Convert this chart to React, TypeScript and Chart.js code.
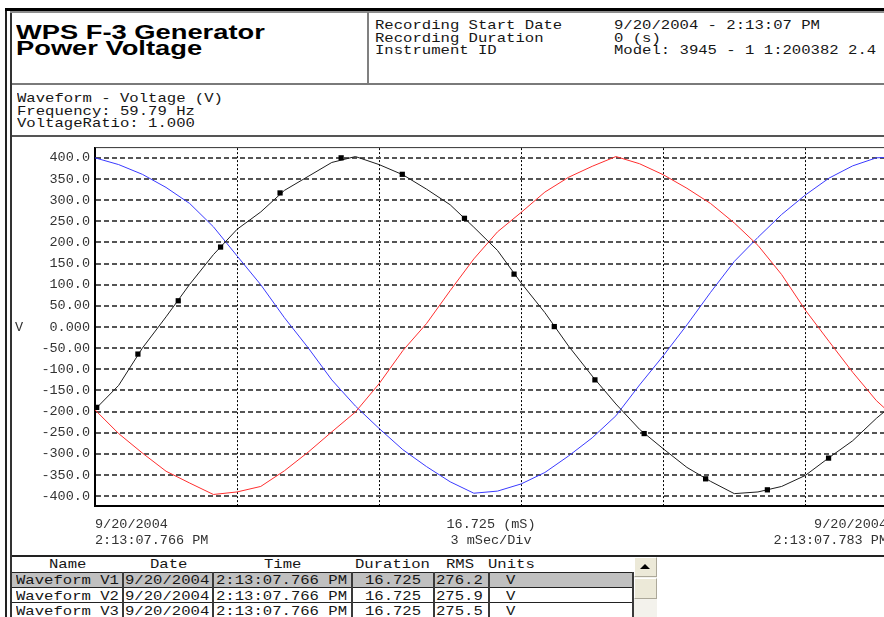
import React, { useEffect, useRef } from "react";
import { Chart, registerables } from "chart.js";

Chart.register(...registerables);

const MONO = "'Liberation Mono', 'Courier New', monospace";
const SANS = "'Liberation Sans', Arial, sans-serif";
const PAGE_W = 884;

// ---- chart data (time in ms, voltage in V) ----
const timeMs = [0, 0.5, 1, 1.5, 2, 2.5, 3, 3.5, 4, 4.5, 5, 5.5, 6, 6.5, 7, 7.5, 8, 8.5, 9, 9.5, 10, 10.5, 11, 11.5, 12, 12.5, 13, 13.5, 14, 14.5, 15, 15.5, 16, 16.5, 16.725];
const blackVolts = [-195, -138, -50, 24, 101, 171, 231, 272, 323, 356, 389, 403, 384, 360, 326, 289, 236, 181, 104, 34, -45, -116, -182, -242, -288, -332, -365, -394, -390, -377, -351, -309, -269, -216, -195];
const redVolts = [-196, -252, -298, -341, -369, -396, -390, -377, -340, -296, -248, -201, -134, -56, 8, 86, 161, 225, 271, 319, 354, 380, 403, 386, 360, 328, 292, 246, 193, 124, 40, -34, -107, -174, -197];
const blueVolts = [400, 384, 361, 330, 292, 237, 168, 100, 22, -49, -125, -187, -240, -290, -330, -366, -393, -388, -371, -344, -305, -262, -210, -137, -68, 5, 82, 155, 212, 266, 312, 352, 381, 400, 401];
const markerTimes = [0.036, 0.906, 1.758, 2.652, 3.908, 5.198, 6.489, 7.802, 8.849, 9.699, 10.557, 11.597, 12.895, 14.199, 15.491];
const markerVolts = [-190, -64, 62, 189, 317, 400, 361, 257, 125, 1, -125, -252, -359, -385, -310];

const xDivTimes = [0, 3, 6, 9, 12, 15];
const xMin = 0;
const xMax = 16.725;
const yTickValues = [400, 350, 300, 250, 200, 150, 100, 50, 0, -50, -100, -150, -200, -250, -300, -350, -400];
const yTickLabels = ["400.0", "350.0", "300.0", "250.0", "200.0", "150.0", "100.0", "50.00", "0.000", "-50.00", "-100.0", "-150.0", "-200.0", "-250.0", "-300.0", "-350.0", "-400.0"];
const yMin = -423;
const yMax = 423;

// ---- texts ----
const titleLines = ["WPS F-3 Generator", "Power Voltage"];
const headerLabels = ["Recording Start Date", "Recording Duration", "Instrument ID"];
const headerValues = ["9/20/2004 - 2:13:07 PM", "0 (s)", "Model: 3945 - 1 1:200382 2.4"];
const infoLines = ["Waveform - Voltage (V)", "Frequency: 59.79 Hz", "VoltageRatio: 1.000"];
const yUnit = "V";
const startLabel = ["9/20/2004", "2:13:07.766 PM"];
const centerLabel = ["16.725 (mS)", "3 mSec/Div"];
const endLabel = ["9/20/2004", "2:13:07.783 PM"];
const tableHeaders = ["Name", "Date", "Time", "Duration", "RMS", "Units"];
const rowNames = ["Waveform V1", "Waveform V2", "Waveform V3"];
const rowDates = ["9/20/2004", "9/20/2004", "9/20/2004"];
const rowTimes = ["2:13:07.766 PM", "2:13:07.766 PM", "2:13:07.766 PM"];
const rowDurations = ["16.725", "16.725", "16.725"];
const rowRms = ["276.2", "275.9", "275.5"];
const rowUnits = ["V", "V", "V"];

function T(props: any) {
  const { x, base, text, size = 13, sx = 1.2, family = MONO, weight = 400, color = "#161616", align = "left" } = props;
  const asc = family === SANS ? 0.8465 : 0.7665;
  const st: any = {
    position: "absolute",
    top: base - asc * size,
    whiteSpace: "pre",
    fontFamily: family,
    fontSize: size,
    lineHeight: size + "px",
    fontWeight: weight,
    color,
  };
  if (align === "left") {
    st.left = x;
    st.transformOrigin = "0 0";
    st.transform = `scaleX(${sx})`;
  } else if (align === "right") {
    st.right = PAGE_W - x;
    st.transformOrigin = "100% 0";
    st.transform = `scaleX(${sx})`;
  } else {
    st.left = x;
    st.transformOrigin = "50% 0";
    st.transform = `translateX(-50%) scaleX(${sx})`;
  }
  return <div style={st}>{text}</div>;
}

function R(props: any) {
  const { x, y, w, h, bg, style } = props;
  return <div style={{ position: "absolute", left: x, top: y, width: w, height: h, background: bg, ...(style || {}) }} />;
}

const plotTopLine = {
  id: "plotTopLine",
  beforeDatasetsDraw(chart: any) {
    const { ctx, chartArea } = chart;
    ctx.save();
    ctx.strokeStyle = "#333";
    ctx.lineWidth = 1;
    ctx.beginPath();
    ctx.moveTo(chartArea.left, chartArea.top - 0.5);
    ctx.lineTo(chartArea.right, chartArea.top - 0.5);
    ctx.stroke();
    ctx.restore();
  },
};

function WaveChart() {
  const ref = useRef<HTMLCanvasElement | null>(null);
  useEffect(() => {
    if (!ref.current) return;
    const toPts = (vals: number[]) => timeMs.map((t, i) => ({ x: t, y: vals[i] }));
    const chart = new Chart(ref.current, {
      type: "line",
      data: {
        datasets: [
          {
            label: "markers",
            data: markerTimes.map((t, i) => ({ x: t, y: markerVolts[i] })),
            showLine: false,
            pointStyle: "rect",
            pointRadius: 3.7,
            pointBackgroundColor: "#000",
            pointBorderColor: "#000",
            pointBorderWidth: 0,
            borderColor: "#000",
            clip: 6,
          },
          { label: "V1", data: toPts(blackVolts), borderColor: "#1e1e1e", borderWidth: 1, pointRadius: 0 },
          { label: "V2", data: toPts(redVolts), borderColor: "#ff2e2e", borderWidth: 1, pointRadius: 0 },
          { label: "V3", data: toPts(blueVolts), borderColor: "#3a3aff", borderWidth: 1, pointRadius: 0 },
        ] as any,
      },
      options: {
        animation: false,
        responsive: false,
        events: [],
        layout: { padding: { top: 10, bottom: 10, left: 0, right: 0 } },
        elements: { line: { tension: 0 } },
        plugins: { legend: { display: false }, tooltip: { enabled: false }, title: { display: false } },
        scales: {
          x: {
            type: "linear",
            min: xMin,
            max: xMax,
            afterBuildTicks: (s: any) => {
              s.ticks = xDivTimes.map((v) => ({ value: v }));
            },
            afterFit: (s: any) => {
              s.height = 0;
            },
            ticks: { display: false },
            grid: { color: "#000", lineWidth: 1, drawTicks: false },
            border: { display: true, color: "#000", width: 2, dash: [2, 2] },
          },
          y: {
            type: "linear",
            min: yMin,
            max: yMax,
            afterBuildTicks: (s: any) => {
              s.ticks = yTickValues.map((v) => ({ value: v }));
            },
            afterFit: (s: any) => {
              s.width = 95;
            },
            ticks: {
              autoSkip: false,
              padding: 5,
              color: "#333",
              font: { family: MONO, size: 13.5 },
              callback: (v: any) => {
                const i = yTickValues.indexOf(Number(v));
                return i >= 0 ? yTickLabels[i] : "";
              },
            },
            grid: { color: "#555", lineWidth: 2, drawTicks: false },
            border: { display: true, color: "#000", width: 2, dash: [5, 3] },
          },
        },
      } as any,
      plugins: [plotTopLine],
    });
    return () => chart.destroy();
  }, []);
  return (
    <canvas
      ref={ref}
      width={891}
      height={384}
      style={{ position: "absolute", left: 0, top: 135, width: 891, height: 384, display: "block" }}
    />
  );
}

export default function App() {
  const colX = [12, 122, 212, 351, 433, 488, 632];
  const rowY = [572, 587, 602];
  return (
    <div style={{ position: "absolute", left: 0, top: 0, width: PAGE_W, height: 617, overflow: "hidden", background: "#fff" }}>
      {/* frame lines */}
      <R x={5} y={8} w={2} h={609} bg="#222" />
      <R x={10} y={12} w={2} h={605} bg="#333" />
      <R x={5} y={8} w={879} h={3} bg="#000" />
      <R x={10} y={11} w={874} h={2} bg="#8c8c8c" />
      <R x={367} y={12} w={2} h={72} bg="#808080" />
      <R x={12} y={83} w={872} h={2} bg="#7a7a7a" />
      <R x={12} y={135} w={872} h={2} bg="#555" />
      <R x={12} y={555} w={872} h={2} bg="#222" />

      {/* title */}
      <T x={16} base={38.3} text={titleLines[0]} family={SANS} size={21} weight={700} sx={1.3} color="#000" />
      <T x={16} base={55} text={titleLines[1]} family={SANS} size={21} weight={700} sx={1.3} color="#000" />

      {/* header info */}
      {headerLabels.map((s, i) => (
        <T key={"hl" + i} x={375} base={29 + i * 12.5} text={s} />
      ))}
      {headerValues.map((s, i) => (
        <T key={"hv" + i} x={613.7} base={29 + i * 12.5} text={s} />
      ))}

      {/* waveform info */}
      {infoLines.map((s, i) => (
        <T key={"il" + i} x={17.3} base={102.3 + i * 12.5} text={s} />
      ))}

      {/* chart */}
      <WaveChart />
      <T x={15} base={331.7} text={yUnit} size={13.5} sx={1} color="#333" />

      {/* axis labels below plot */}
      {startLabel.map((s, i) => (
        <T key={"sl" + i} x={95} base={528.3 + i * 16} text={s} size={13.5} sx={1} color="#333" />
      ))}
      {centerLabel.map((s, i) => (
        <T key={"cl" + i} x={491} base={528.3 + i * 16} text={s} size={13.5} sx={1} color="#333" align="center" />
      ))}
      {endLabel.map((s, i) => (
        <T key={"el" + i} x={887} base={528.3 + i * 16} text={s} size={13.5} sx={1} color="#333" align="right" />
      ))}

      {/* table */}
      <R x={12} y={573} w={620} h={14} bg="#c0c0c0" />
      {rowY.map((y, i) => (
        <R key={"rh" + i} x={12} y={y} w={621} h={1} bg="#222" />
      ))}
      {colX.slice(1).map((x, i) => (
        <R key={"cv" + i} x={x} y={572} w={2} h={45} bg="#3a3a3a" />
      ))}
      <T x={49.3} base={568.3} text={tableHeaders[0]} />
      <T x={150} base={568.3} text={tableHeaders[1]} />
      <T x={264} base={568.3} text={tableHeaders[2]} />
      <T x={355} base={568.3} text={tableHeaders[3]} />
      <T x={445.5} base={568.3} text={tableHeaders[4]} />
      <T x={488.4} base={568.3} text={tableHeaders[5]} />
      {rowNames.map((s, i) => {
        const b = 584 + i * 15.5;
        return (
          <React.Fragment key={"row" + i}>
            <T x={16} base={b} text={s} />
            <T x={125} base={b} text={rowDates[i]} />
            <T x={216} base={b} text={rowTimes[i]} />
            <T x={392.6} base={b} text={rowDurations[i]} align="center" />
            <T x={436} base={b} text={rowRms[i]} />
            <T x={506} base={b} text={rowUnits[i]} />
          </React.Fragment>
        );
      })}

      {/* scrollbar */}
      <R x={634} y={557} w={23} h={60} bg="#f3f2ec" />
      <R x={634} y={557} w={23} h={20} bg="#ece9d8" style={{ boxSizing: "border-box", borderTop: "1px solid #fff", borderLeft: "1px solid #fff", borderRight: "1px solid #aca899", borderBottom: "1px solid #aca899" }} />
      <div style={{ position: "absolute", left: 640, top: 563.5, width: 0, height: 0, borderLeft: "5px solid transparent", borderRight: "5px solid transparent", borderBottom: "5px solid #000" }} />
      <R x={634} y={578} w={23} h={21} bg="#ece9d8" style={{ boxSizing: "border-box", borderTop: "1px solid #fff", borderLeft: "1px solid #fff", borderRight: "1px solid #aca899", borderBottom: "1px solid #aca899" }} />
    </div>
  );
}
